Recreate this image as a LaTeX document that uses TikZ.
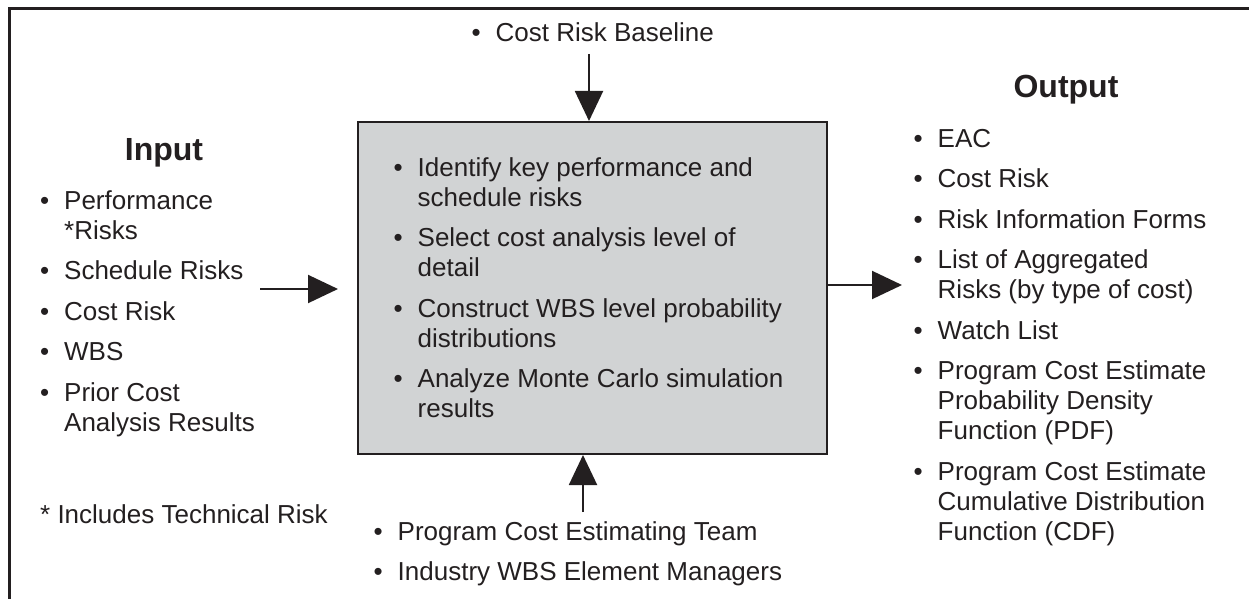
\documentclass[tikz,border=0pt]{standalone}
\usepackage{fontspec}
\setmainfont{Liberation Sans}
\usetikzlibrary{arrows.meta,positioning}

\definecolor{ink}{HTML}{231F20}
\definecolor{boxgray}{HTML}{D1D3D4}
\newcommand{\bul}{\makebox[24pt][l]{\textbullet}}
\newcommand{\gap}{\\[10.5pt]}

\tikzset{
  txt/.style={inner sep=0pt, anchor=base west, text=ink, font=\fontsize{26}{30}\selectfont},
  ttl/.style={inner sep=0pt, anchor=base, text=ink, font=\fontsize{32}{36}\selectfont\bfseries},
  proc/.style={draw=ink, line width=2pt, fill=boxgray, minimum width=469pt, minimum height=332pt, inner sep=0pt},
  flow/.style={draw=ink, line width=2pt, -{Triangle[length=30pt,width=28pt]}},
  frame/.style={draw=ink, line width=3pt}
}

\begin{document}
\begin{tikzpicture}[x=1pt,y=-1pt]
\useasboundingbox (0,0) rectangle (1249,599);
\draw[frame] (1249,9) -- (9,9) -- (9,599);

\node[proc] (box) at (592.5,288) {};

\node[ttl] (intitle) at (164,160) {Input};
\node[txt] (inlist) at (40,209) {\begin{tabular}[t]{@{}l@{}l@{}}
\bul & Performance\\ & *Risks\gap
\bul & Schedule Risks\gap
\bul & Cost Risk\gap
\bul & WBS\gap
\bul & Prior Cost\\ & Analysis Results
\end{tabular}};
\node[txt] (note) at (40,523) {* Includes Technical Risk};

\node[txt] (steps) at (393.5,176) {\begin{tabular}[t]{@{}l@{}l@{}}
\bul & Identify key performance and\\ & schedule risks\gap
\bul & Select cost analysis level of\\ & detail\gap
\bul & Construct WBS level probability\\ & distributions\gap
\bul & Analyze Monte Carlo simulation\\ & results
\end{tabular}};

\node[txt] (baseline) at (471.5,42) {\bul Cost Risk Baseline};

\node[txt] (team) at (373.5,540) {\begin{tabular}[t]{@{}l@{}l@{}}
\bul & Program Cost Estimating Team\gap
\bul & Industry WBS Element Managers
\end{tabular}};

\node[ttl] (outtitle) at (1066,98) {Output};
\node[txt] (outlist) at (913.5,147) {\begin{tabular}[t]{@{}l@{}l@{}}
\bul & EAC\gap
\bul & Cost Risk\gap
\bul & Risk Information Forms\gap
\bul & List of Aggregated\\ & Risks (by type of cost)\gap
\bul & Watch List\gap
\bul & Program Cost Estimate\\ & Probability Density\\ & Function (PDF)\gap
\bul & Program Cost Estimate\\ & Cumulative Distribution\\ & Function (CDF)
\end{tabular}};

\coordinate (intail) at (260,289);
\coordinate (intip) at (338,289);
\coordinate (toptail) at (589,54);
\coordinate (bottail) at (583,512);
\coordinate (outtip) at (902,285);

\draw[flow] (intail) -- (intip);
\draw[flow] (toptail) -- (toptail |- box.north);
\draw[flow] (bottail) -- (bottail |- box.south);
\draw[flow] (box.east |- outtip) -- (outtip);
\end{tikzpicture}
\end{document}
